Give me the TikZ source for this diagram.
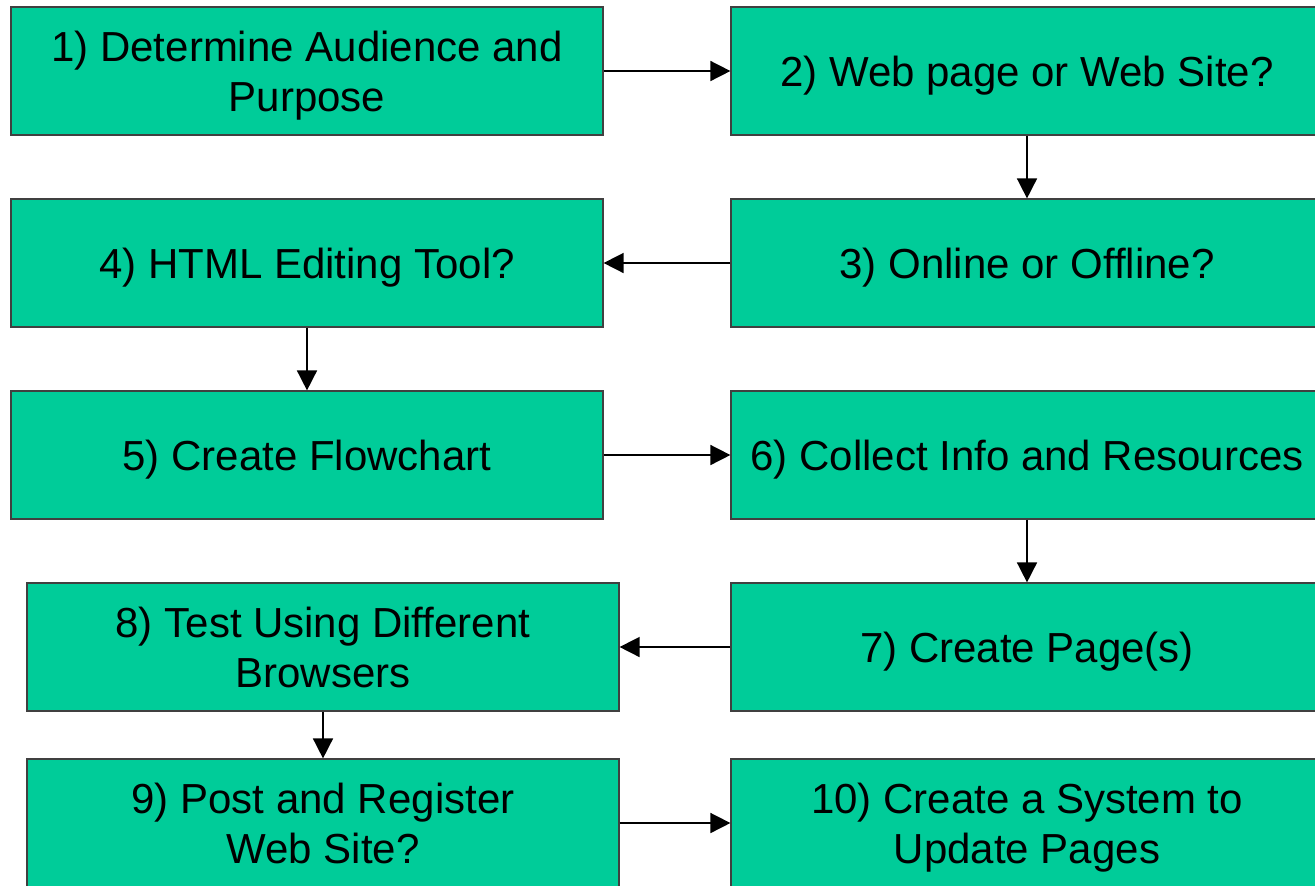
\documentclass[tikz,border=0pt]{standalone}
\usepackage{fontspec}
\setmainfont{Liberation Sans}
\usetikzlibrary{arrows.meta}

\begin{document}
\begin{tikzpicture}[x=0.5pt,y=-0.5pt,
  stepbox/.style={draw=black!75,line width=0.6pt,fill=boxgreen,
    minimum width=296pt,minimum height=64pt,inner sep=0pt,text depth=0pt,
    align=center,font=\fontsize{21}{25}\selectfont},
  flow/.style={-{Triangle[length=10pt,width=10pt]},line width=0.8pt}]
  \definecolor{boxgreen}{HTML}{00CC99}

  \useasboundingbox (0,0) rectangle (1315,885);
  \clip (0,0) rectangle (1315,885);

  \draw (307,71) node[stepbox] (s1) {1) Determine Audience and\\Purpose};
  \draw (1027,71) node[stepbox] (s2) {2) Web page or Web Site?};
  \draw (1027,263) node[stepbox] (s3) {3) Online or Offline?};
  \draw (307,263) node[stepbox] (s4) {4) HTML Editing Tool?};
  \draw (307,455) node[stepbox] (s5) {5) Create Flowchart};
  \draw (1027,455) node[stepbox] (s6) {6) Collect Info and Resources};
  \draw (1027,647) node[stepbox] (s7) {7) Create Page(s)};
  \draw (323,647) node[stepbox] (s8) {8) Test Using Different\\Browsers};
  \draw (323,823) node[stepbox] (s9) {9) Post and Register\\Web Site?};
  \draw (1027,823) node[stepbox] (s10) {10) Create a System to\\Update Pages};


  \draw[flow] (s1) -- (s2);
  \draw[flow] (s2) -- (s3);
  \draw[flow] (s3) -- (s4);
  \draw[flow] (s4) -- (s5);
  \draw[flow] (s5) -- (s6);
  \draw[flow] (s6) -- (s7);
  \draw[flow] (s7) -- (s8);
  \draw[flow] (s8) -- (s9);
  \draw[flow] (s9) -- (s10);

\end{tikzpicture}
\end{document}
